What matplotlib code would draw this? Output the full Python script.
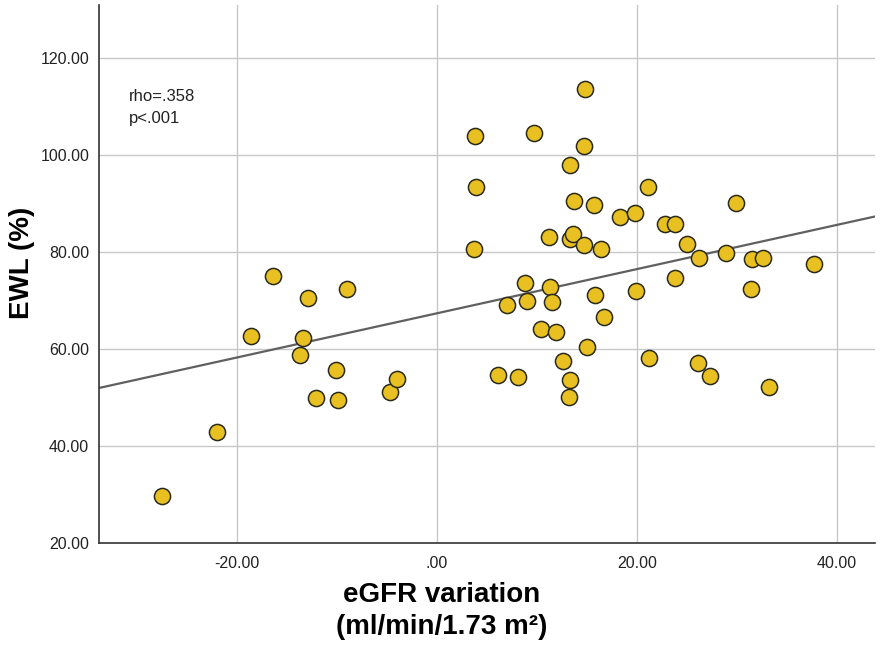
import matplotlib
matplotlib.use("Agg")
import matplotlib.pyplot as plt

plt.rcParams['font.family'] = ['Liberation Sans', 'DejaVu Sans']

# eGFR variation (ml/min/1.73 m2) vs EWL (%)
egfr = [-27.5, -22.0, -18.6, -16.4, -12.9, -13.4, -13.7, -12.1, -10.1, -9.9,
        -9.0, -4.7, -4.0, 3.8, 3.9, 3.7, 6.1, 7.0, 8.1, 8.8,
        9.0, 9.7, 10.4, 11.2, 11.3, 11.5, 11.9, 12.6, 13.3, 13.2,
        13.3, 13.3, 13.6, 13.7, 14.7, 14.7, 14.8, 15.0, 15.7, 15.8,
        16.4, 16.7, 18.3, 19.8, 19.9, 21.1, 21.2, 22.8, 23.8, 23.8,
        25.0, 26.1, 26.2, 27.3, 28.9, 29.9, 31.4, 31.5, 32.6, 33.2,
        37.7]
ewl = [29.7, 42.9, 62.7, 75.1, 70.5, 62.3, 58.8, 49.9, 55.7, 49.5,
       72.4, 51.1, 53.8, 103.9, 93.4, 80.6, 54.6, 69.1, 54.2, 73.6,
       69.9, 104.7, 64.1, 83.1, 72.8, 69.7, 63.5, 57.5, 53.6, 50.1,
       97.9, 82.7, 83.7, 90.5, 81.4, 101.9, 113.6, 60.4, 89.7, 71.1,
       80.6, 66.6, 87.2, 88.0, 72.0, 93.4, 58.1, 85.8, 85.8, 74.6,
       81.6, 57.1, 78.8, 54.4, 79.8, 90.1, 72.4, 78.6, 78.8, 52.2,
       77.5]

# fit line as drawn in the reference
fit_intercept = 67.4
fit_slope = 0.456

x_ticks = [-20, 0, 20, 40]
x_tick_labels = ["-20.00", ".00", "20.00", "40.00"]
y_ticks = [20, 40, 60, 80, 100, 120]
y_tick_labels = ["20.00", "40.00", "60.00", "80.00", "100.00", "120.00"]
x_lim = (-33.8, 43.8)
y_lim = (20, 131)

fig = plt.figure(figsize=(8.86, 6.45), dpi=100)
ax = fig.add_axes([0.1117, 0.1581, 0.8759, 0.8341])

ax.grid(True, color="#c8c8c8", linewidth=1.0)
ax.set_axisbelow(True)

ax.plot(x_lim, [fit_intercept + fit_slope * v for v in x_lim],
        color="#606060", linewidth=1.6, zorder=2)
ax.scatter(egfr, ewl, s=135, facecolor="#E8C021", edgecolor="#2a2a1a",
           linewidth=1.1, zorder=3)

ax.set_xlim(*x_lim)
ax.set_ylim(*y_lim)
ax.set_xticks(x_ticks)
ax.set_xticklabels(x_tick_labels)
ax.set_yticks(y_ticks)
ax.set_yticklabels(y_tick_labels)
ax.tick_params(length=0, labelsize=11.5, colors="#222222")
ax.tick_params(axis="x", pad=9)
ax.tick_params(axis="y", pad=7)

for side in ["top", "right"]:
    ax.spines[side].set_visible(False)
for side in ["left", "bottom"]:
    ax.spines[side].set_color("#333333")
    ax.spines[side].set_linewidth(1.2)

ax.text(-30.8, 112.2, "rho=.358", fontsize=12, color="#222222", va="center")
ax.text(-30.8, 107.6, "p<.001", fontsize=12, color="#222222", va="center")

ax.set_ylabel("EWL (%)", fontsize=20, fontweight="bold")
ax.yaxis.set_label_coords(-0.083, 0.52)
ax.set_xlabel("eGFR variation\n(ml/min/1.73 m²)", fontsize=20,
              fontweight="bold", linespacing=1.3)
ax.xaxis.set_label_coords(0.442, -0.073)

fig.savefig("out.png", dpi=100)
